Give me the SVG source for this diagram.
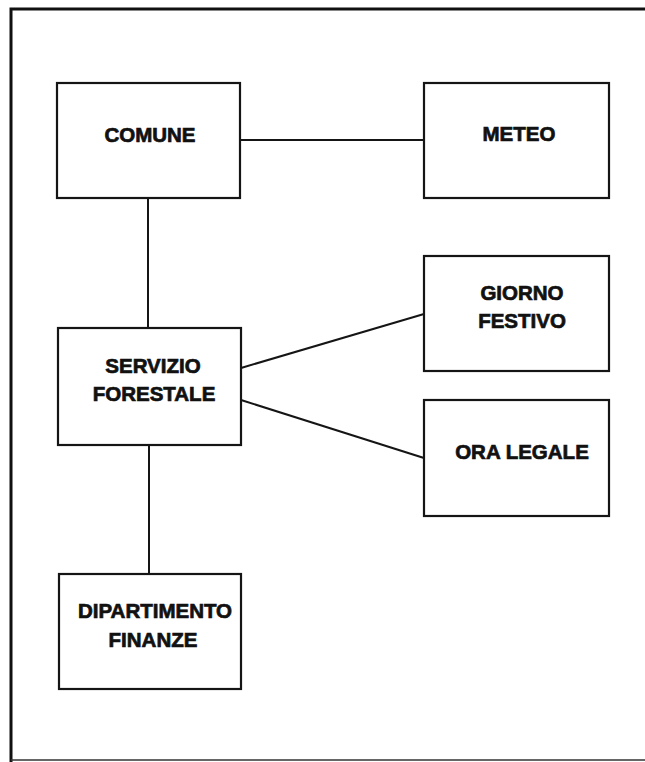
<svg xmlns="http://www.w3.org/2000/svg" width="645" height="762" viewBox="0 0 645 762">
<style>
.box{fill:none;stroke:#151515;stroke-width:2.2}
.lbl{font-family:"Liberation Sans",Arial,sans-serif;font-weight:bold;font-size:20.5px;fill:#111;stroke:#111;stroke-width:0.7;text-anchor:middle}
.con{stroke:#151515;stroke-width:2;fill:none}
</style>
<rect width="645" height="762" fill="#fff"/>
<g id="frame">
<path d="M11,762 V9 H645" fill="none" stroke="#111" stroke-width="3"/>
<path d="M11,760 H645" fill="none" stroke="#333" stroke-width="1.5"/>
</g>
<g id="connectors">
<line class="con" x1="240" y1="140" x2="424" y2="140"/>
<line class="con" x1="148" y1="198" x2="148" y2="328"/>
<line class="con" x1="241" y1="368" x2="424" y2="314"/>
<line class="con" x1="241" y1="400" x2="424" y2="458"/>
<line class="con" x1="149" y1="445" x2="149" y2="574"/>
</g>
<g id="comune">
<rect class="box" x="57" y="83" width="183" height="115"/>
<text class="lbl" x="150" y="142">COMUNE</text>
</g>
<g id="meteo">
<rect class="box" x="424" y="83" width="185" height="115"/>
<text class="lbl" x="519" y="141">METEO</text>
</g>
<g id="servizio-forestale">
<rect class="box" x="58" y="328" width="183" height="117"/>
<text class="lbl" x="153" y="373">SERVIZIO</text>
<text class="lbl" x="154" y="401">FORESTALE</text>
</g>
<g id="giorno-festivo">
<rect class="box" x="424" y="256" width="185" height="115"/>
<text class="lbl" x="522" y="300">GIORNO</text>
<text class="lbl" x="522" y="328">FESTIVO</text>
</g>
<g id="ora-legale">
<rect class="box" x="424" y="400" width="185" height="116"/>
<text class="lbl" x="522" y="459">ORA LEGALE</text>
</g>
<g id="dipartimento-finanze">
<rect class="box" x="59" y="574" width="182" height="115"/>
<text class="lbl" x="155" y="618">DIPARTIMENTO</text>
<text class="lbl" x="153" y="647">FINANZE</text>
</g>
</svg>
